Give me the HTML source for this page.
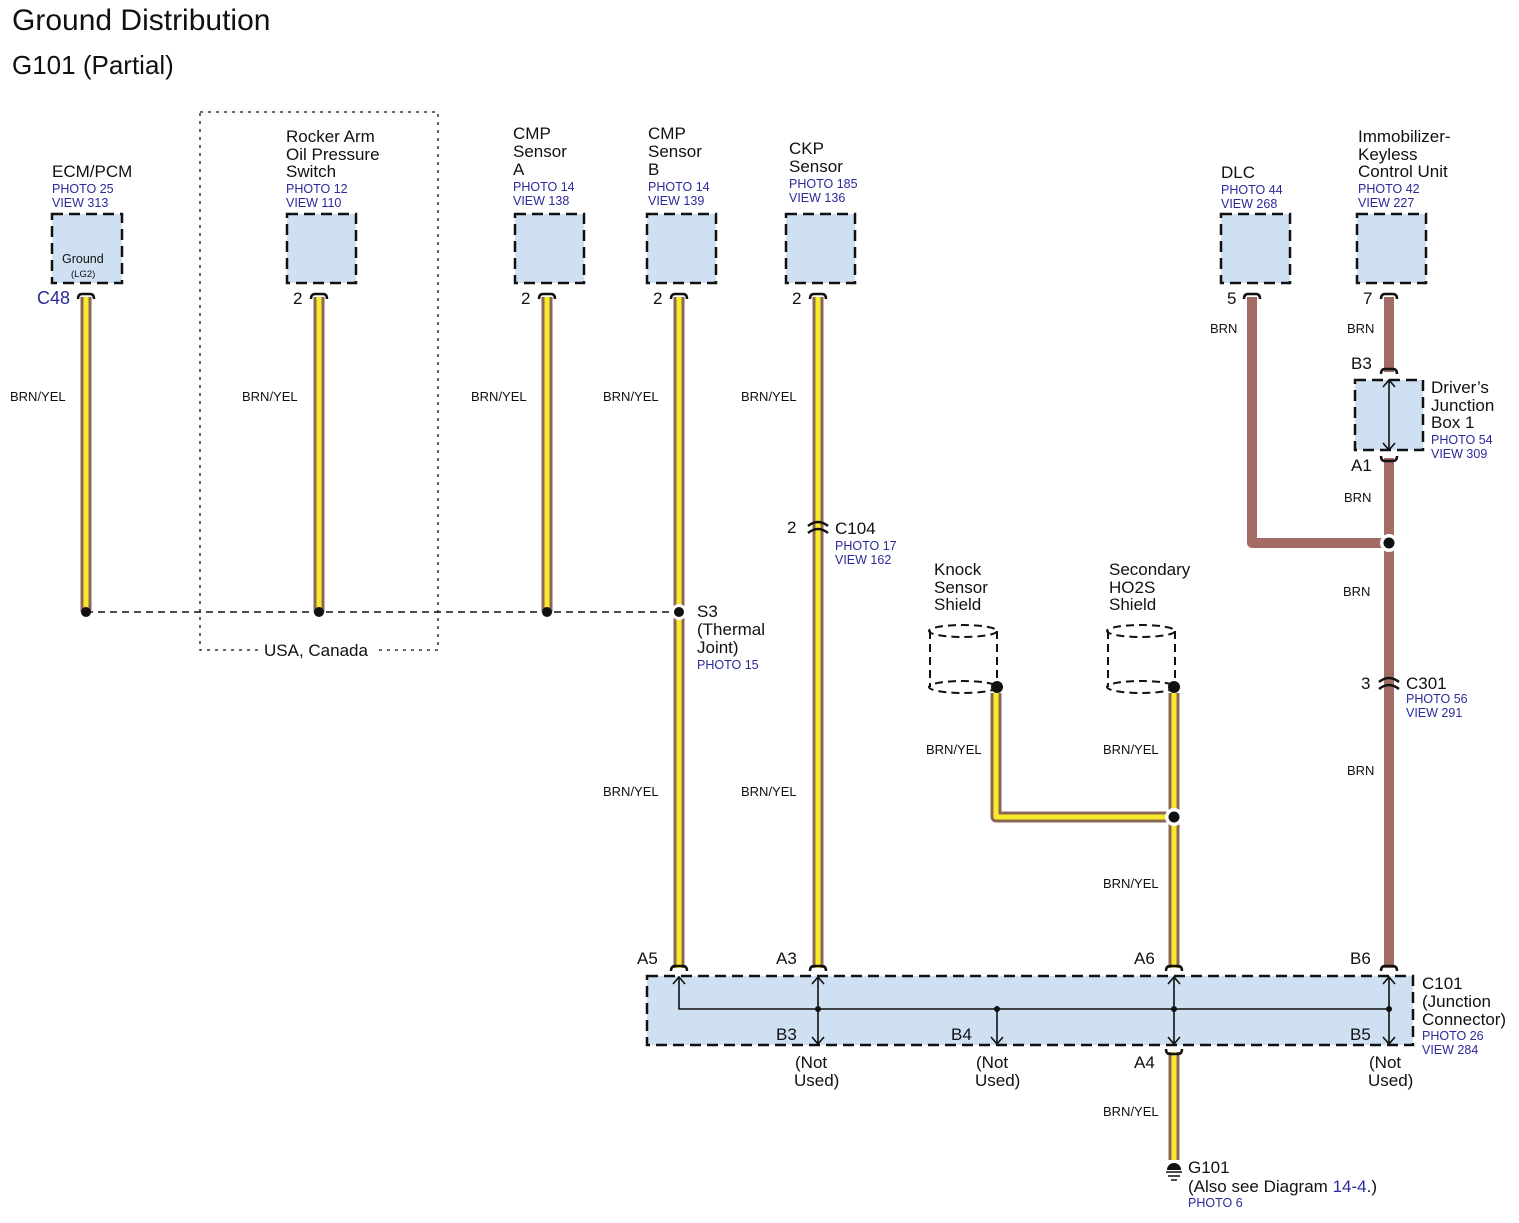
<!DOCTYPE html>
<html><head><meta charset="utf-8"><style>
html,body{margin:0;padding:0;background:#fff;}
svg{display:block;font-family:"Liberation Sans",Arial,sans-serif;}
.t{font-size:17px;fill:#111;}
.b{font-size:12.5px;fill:#2a2a9a;}
.w{font-size:13px;fill:#111;}
.box{fill:#cfe0f3;stroke:#111;stroke-width:2.5;stroke-dasharray:11,6;}
.wo{fill:none;stroke:#8e6655;stroke-width:11;stroke-linejoin:round;}
.wi{fill:none;stroke:#f8ec2a;stroke-width:5;stroke-linejoin:round;}
.br{fill:none;stroke:#a26b64;stroke-width:10;stroke-linejoin:round;}
.cap{fill:none;stroke:#111;stroke-width:2.5;}
.ln{fill:none;stroke:#111;stroke-width:1.6;}
</style></head><body>
<svg width="1519" height="1223" viewBox="0 0 1519 1223" xmlns="http://www.w3.org/2000/svg">
<text x="12" y="30" style="font-size:30px" fill="#111">Ground Distribution</text>
<text x="12" y="74" style="font-size:26px" fill="#111">G101 (Partial)</text>

<path d="M200,112 H438 V650 H378 M258,650 H200 V112" fill="none" stroke="#111" stroke-width="1.3" stroke-dasharray="3,5"/>
<text x="264" y="656" class="t">USA, Canada</text>

<path d="M86,612 H679" stroke="#111" stroke-width="1.5" stroke-dasharray="7,5" fill="none"/>

<rect x="52" y="214" width="70" height="69" class="box"/>
<rect x="287" y="214" width="69" height="69" class="box"/>
<rect x="515" y="214" width="69" height="69" class="box"/>
<rect x="647" y="214" width="69" height="69" class="box"/>
<rect x="786" y="214" width="69" height="69" class="box"/>
<rect x="1221" y="214" width="69" height="69" class="box"/>
<rect x="1357" y="214" width="69" height="69" class="box"/>
<text x="62" y="263" style="font-size:12.5px" fill="#111">Ground</text>
<text x="71" y="277" style="font-size:9.5px" fill="#111">(LG2)</text>

<text x="52" y="177" class="t">ECM/PCM</text>
<text x="52" y="193" class="b">PHOTO 25</text><text x="52" y="207" class="b">VIEW 313</text>
<text x="286" y="142" class="t">Rocker Arm</text><text x="286" y="160" class="t">Oil Pressure</text><text x="286" y="177" class="t">Switch</text>
<text x="286" y="193" class="b">PHOTO 12</text><text x="286" y="207" class="b">VIEW 110</text>
<text x="513" y="139" class="t">CMP</text><text x="513" y="157" class="t">Sensor</text><text x="513" y="175" class="t">A</text>
<text x="513" y="191" class="b">PHOTO 14</text><text x="513" y="205" class="b">VIEW 138</text>
<text x="648" y="139" class="t">CMP</text><text x="648" y="157" class="t">Sensor</text><text x="648" y="175" class="t">B</text>
<text x="648" y="191" class="b">PHOTO 14</text><text x="648" y="205" class="b">VIEW 139</text>
<text x="789" y="154" class="t">CKP</text><text x="789" y="172" class="t">Sensor</text>
<text x="789" y="188" class="b">PHOTO 185</text><text x="789" y="202" class="b">VIEW 136</text>
<text x="1221" y="178" class="t">DLC</text>
<text x="1221" y="194" class="b">PHOTO 44</text><text x="1221" y="208" class="b">VIEW 268</text>
<text x="1358" y="142" class="t">Immobilizer-</text><text x="1358" y="160" class="t">Keyless</text><text x="1358" y="177" class="t">Control Unit</text>
<text x="1358" y="193" class="b">PHOTO 42</text><text x="1358" y="207" class="b">VIEW 227</text>

<text x="37" y="304" style="font-size:18px" fill="#2a2a9a">C48</text>
<text x="293" y="304" class="t">2</text>
<text x="521" y="304" class="t">2</text>
<text x="653" y="304" class="t">2</text>
<text x="792" y="304" class="t">2</text>
<text x="1227" y="304" class="t">5</text>
<text x="1363" y="304" class="t">7</text>

<g>
<path class="wo" d="M86,297 V612"/><path class="wi" d="M86,297 V612"/>
<path class="wo" d="M319,297 V612"/><path class="wi" d="M319,297 V612"/>
<path class="wo" d="M547,297 V612"/><path class="wi" d="M547,297 V612"/>
<path class="wo" d="M679,297 V968"/><path class="wi" d="M679,297 V968"/>
<path class="wo" d="M818,297 V968"/><path class="wi" d="M818,297 V968"/>
<path class="wo" d="M996,693 V817 H1174"/><path class="wi" d="M996,693 V817 H1174"/>
<path class="wo" d="M1174,693 V968"/><path class="wi" d="M1174,693 V968"/>
<path class="wo" d="M1174,1052 V1160"/><path class="wi" d="M1174,1052 V1160"/>
</g>
<path class="br" d="M1252,297 V543 H1389"/>
<path class="br" d="M1389,297 V372"/>
<path class="br" d="M1389,458 V968"/>

<g class="cap">
<path d="M78,299 Q78,294 82,294 H90 Q94,294 94,299"/>
<path d="M311,299 Q311,294 315,294 H323 Q327,294 327,299"/>
<path d="M539,299 Q539,294 543,294 H551 Q555,294 555,299"/>
<path d="M671,299 Q671,294 675,294 H683 Q687,294 687,299"/>
<path d="M810,299 Q810,294 814,294 H822 Q826,294 826,299"/>
<path d="M1244,299 Q1244,294 1248,294 H1256 Q1260,294 1260,299"/>
<path d="M1381,299 Q1381,294 1385,294 H1393 Q1397,294 1397,299"/>
<path d="M671,971 Q671,966 675,966 H683 Q687,966 687,971"/>
<path d="M810,971 Q810,966 814,966 H822 Q826,966 826,971"/>
<path d="M1166,971 Q1166,966 1170,966 H1178 Q1182,966 1182,971"/>
<path d="M1381,971 Q1381,966 1385,966 H1393 Q1397,966 1397,971"/>
<path d="M1166,1049 Q1166,1054 1170,1054 H1178 Q1182,1054 1182,1049"/>
<path d="M1381,374 Q1381,369 1385,369 H1393 Q1397,369 1397,374"/>
<path d="M1381,456 Q1381,461 1385,461 H1393 Q1397,461 1397,456"/>
<path d="M808,526 Q818,518 828,526"/>
<path d="M808,533 Q818,525 828,533"/>
<path d="M1379,682 Q1389,674 1399,682"/>
<path d="M1379,689 Q1389,681 1399,689"/>
</g>

<g class="w">
<text x="10" y="401">BRN/YEL</text>
<text x="242" y="401">BRN/YEL</text>
<text x="471" y="401">BRN/YEL</text>
<text x="603" y="401">BRN/YEL</text>
<text x="741" y="401">BRN/YEL</text>
<text x="603" y="796">BRN/YEL</text>
<text x="741" y="796">BRN/YEL</text>
<text x="926" y="754">BRN/YEL</text>
<text x="1103" y="754">BRN/YEL</text>
<text x="1103" y="888">BRN/YEL</text>
<text x="1103" y="1116">BRN/YEL</text>
<text x="1210" y="333">BRN</text>
<text x="1347" y="333">BRN</text>
<text x="1344" y="502">BRN</text>
<text x="1343" y="596">BRN</text>
<text x="1347" y="775">BRN</text>
</g>

<circle cx="86" cy="612" r="5" fill="#111"/>
<circle cx="319" cy="612" r="5" fill="#111"/>
<circle cx="547" cy="612" r="5" fill="#111"/>
<circle cx="679" cy="612" r="8" fill="#fff"/><circle cx="679" cy="612" r="5" fill="#111"/>
<circle cx="1389" cy="543" r="9" fill="#fff"/><circle cx="1389" cy="543" r="5.5" fill="#111"/>
<circle cx="1174" cy="817" r="9" fill="#fff"/><circle cx="1174" cy="817" r="5.5" fill="#111"/>

<text x="697" y="617" class="t">S3</text><text x="697" y="635" class="t">(Thermal</text><text x="697" y="653" class="t">Joint)</text>
<text x="697" y="669" class="b">PHOTO 15</text>
<text x="787" y="533" class="t">2</text>
<text x="835" y="534" class="t">C104</text>
<text x="835" y="550" class="b">PHOTO 17</text><text x="835" y="564" class="b">VIEW 162</text>

<g fill="none" stroke="#111" stroke-width="2" stroke-dasharray="8,5">
<ellipse cx="963" cy="631" rx="34" ry="6"/>
<path d="M930,631 V687 M997,631 V687"/>
<ellipse cx="963" cy="687" rx="34" ry="6"/>
<ellipse cx="1141" cy="631" rx="34" ry="6"/>
<path d="M1108,631 V687 M1175,631 V687"/>
<ellipse cx="1141" cy="687" rx="34" ry="6"/>
</g>
<circle cx="997" cy="687" r="6" fill="#111"/>
<circle cx="1174" cy="687" r="6" fill="#111"/>
<text x="934" y="575" class="t">Knock</text><text x="934" y="593" class="t">Sensor</text><text x="934" y="610" class="t">Shield</text>
<text x="1109" y="575" class="t">Secondary</text><text x="1109" y="593" class="t">HO2S</text><text x="1109" y="610" class="t">Shield</text>

<rect x="1355" y="380" width="68" height="70" class="box"/>
<path class="ln" d="M1389,380 V450 M1383,387 L1389,380 L1395,387 M1383,443 L1389,450 L1395,443"/>
<text x="1351" y="369" class="t">B3</text>
<text x="1351" y="471" class="t">A1</text>
<text x="1431" y="393" class="t">Driver’s</text><text x="1431" y="411" class="t">Junction</text><text x="1431" y="428" class="t">Box 1</text>
<text x="1431" y="444" class="b">PHOTO 54</text><text x="1431" y="458" class="b">VIEW 309</text>

<text x="1361" y="689" class="t">3</text>
<text x="1406" y="689" class="t">C301</text>
<text x="1406" y="703" class="b">PHOTO 56</text><text x="1406" y="717" class="b">VIEW 291</text>

<rect x="647" y="976" width="766" height="69" class="box"/>
<g class="ln">
<path d="M679,977 V1009 H1389"/>
<path d="M673,984 L679,977 L685,984"/>
<path d="M818,977 V1044 M812,984 L818,977 L824,984 M812,1037 L818,1044 L824,1037"/>
<path d="M997,1009 V1044 M991,1037 L997,1044 L1003,1037"/>
<path d="M1174,977 V1044 M1168,984 L1174,977 L1180,984 M1168,1037 L1174,1044 L1180,1037"/>
<path d="M1389,977 V1044 M1383,984 L1389,977 L1395,984 M1383,1037 L1389,1044 L1395,1037"/>
</g>
<circle cx="818" cy="1009" r="3" fill="#111"/>
<circle cx="997" cy="1009" r="3" fill="#111"/>
<circle cx="1174" cy="1009" r="3" fill="#111"/>
<circle cx="1389" cy="1009" r="3" fill="#111"/>
<text x="637" y="964" class="t">A5</text>
<text x="776" y="964" class="t">A3</text>
<text x="1134" y="964" class="t">A6</text>
<text x="1350" y="964" class="t">B6</text>
<text x="776" y="1040" class="t">B3</text>
<text x="951" y="1040" class="t">B4</text>
<text x="1350" y="1040" class="t">B5</text>
<text x="1134" y="1068" class="t">A4</text>
<text x="795" y="1068" class="t">(Not</text><text x="794" y="1086" class="t">Used)</text>
<text x="976" y="1068" class="t">(Not</text><text x="975" y="1086" class="t">Used)</text>
<text x="1369" y="1068" class="t">(Not</text><text x="1368" y="1086" class="t">Used)</text>
<text x="1422" y="989" class="t">C101</text><text x="1422" y="1007" class="t">(Junction</text><text x="1422" y="1025" class="t">Connector)</text>
<text x="1422" y="1040" class="b">PHOTO 26</text><text x="1422" y="1054" class="b">VIEW 284</text>

<path d="M1167,1170 A7,7 0 0 1 1181,1170 Z" fill="#111"/>
<path d="M1166,1172 H1182 M1168,1176 H1180 M1171,1180 H1177" stroke="#111" stroke-width="1.5"/>
<text x="1188" y="1173" class="t">G101</text>
<text x="1188" y="1192" class="t">(Also see Diagram <tspan fill="#2a2a9a">14-4</tspan>.)</text>
<text x="1188" y="1207" class="b">PHOTO 6</text>
</svg>
</body></html>
